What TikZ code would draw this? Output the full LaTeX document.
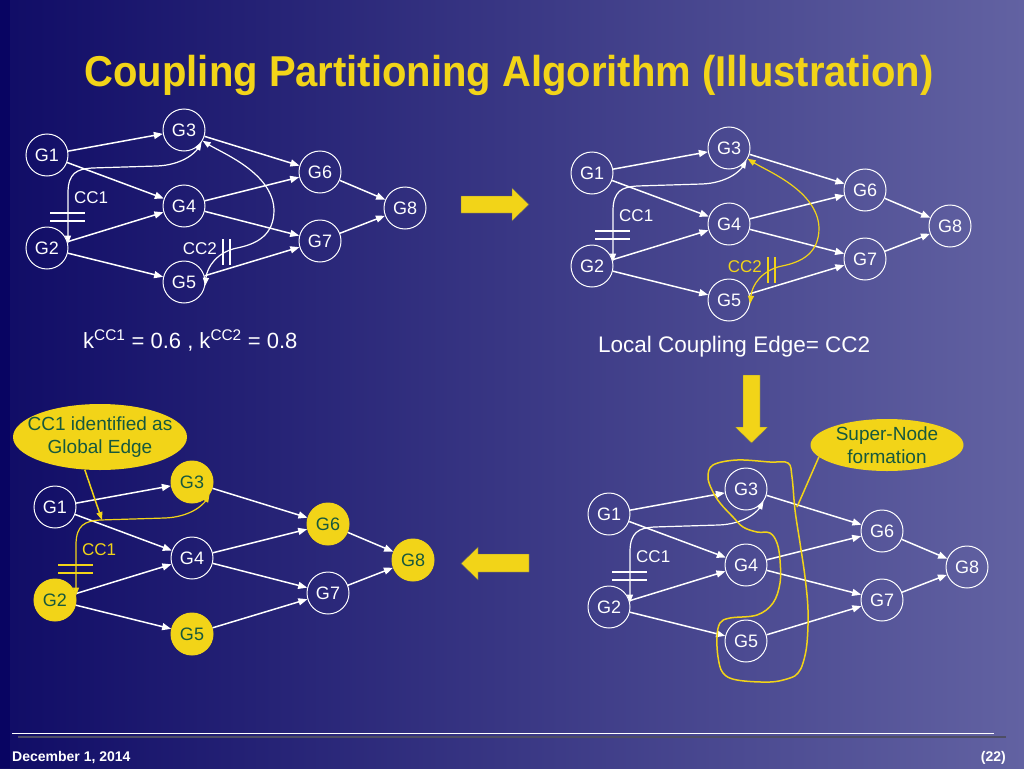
\documentclass[tikz,border=0pt]{standalone}
\usepackage{fontspec}
\setmainfont{Liberation Sans}
\usetikzlibrary{arrows.meta,shapes.geometric}

\definecolor{slideleft}{RGB}{16,12,102}
\definecolor{slideright}{RGB}{98,98,162}
\definecolor{slidestrip}{RGB}{8,4,98}
\definecolor{hotyellow}{RGB}{242,212,24}
\definecolor{notegreen}{RGB}{22,88,62}
\definecolor{footshadow}{RGB}{78,78,100}

\tikzset{
  gnode/.style={circle, draw=white, line width=1pt, minimum size=42pt, inner sep=0pt, text=white, font=\fontsize{18}{18}\selectfont},
  hot/.style={fill=hotyellow, draw=hotyellow, text=notegreen},
  link/.style={white, line width=1.5pt, -{Triangle[length=9pt,width=7pt]}},
  cpl/.style={line width=1.2pt, {Triangle[length=8pt,width=6pt]}-{Triangle[length=8pt,width=6pt]}},
  bars/.style={line width=1.1pt},
  cctext/.style={inner sep=0pt, font=\fontsize{17}{17}\selectfont},
  note/.style={ellipse, fill=hotyellow, text=notegreen, align=center, inner xsep=-12pt, inner ysep=-3pt, font=\fontsize{19}{23}\selectfont},
  pointer/.style={hotyellow, line width=1.5pt},
  bigarrow/.style={fill=hotyellow, draw=black!60, line width=0.4pt},
}

% the eight task graph, origin at G1
\newcommand{\basegraph}{%
  \foreach \n/\x/\y in {1/0/0, 2/0/93, 3/137/-25, 4/137/51, 5/137/127, 6/273/17, 7/273/86, 8/358/53}
    \node[gnode, sel\n/.try] (g\n) at (\x,\y) {G\n};
  \foreach \a/\b in {1/3, 1/4, 2/4, 2/5, 3/6, 4/6, 4/7, 5/7, 6/8, 7/8}
    \draw[link] (g\a) -- (g\b);
}
% coupling edge G2-G3
\newcommand{\ccone}[1]{%
  \draw[cpl, color=#1] (g2.12) -- (21,38) .. controls (21,18) and (30,14) .. (45,13) -- (110,11) .. controls (135,10) and (148,-2) .. (g3.-35);
  \draw[bars, color=#1] (3,58) -- (38,58) (3,66) -- (38,66);
  \node[cctext, text=#1, anchor=west] (cc1) at (27,43) {CC1};
}
% coupling edge G3-G5
\newcommand{\cctwo}[1]{%
  \draw[cpl, color=#1] (g3.-30) .. controls (175,-2) and (226,18) .. (227,55) .. controls (227,80) and (210,89) .. (190,93) .. controls (170,97) and (160,112) .. (g5.-10);
  \draw[bars, color=#1] (176,84) -- (176,110) (183,84) -- (183,110);
  \node[cctext, text=#1, anchor=east] (cc2) at (170,94) {CC2};
}

\begin{document}
\begin{tikzpicture}[x=1pt, y=-1pt]
  \useasboundingbox (0,0) rectangle (1024,768);
  \shade[left color=slideleft, right color=slideright] (0,0) rectangle (1024,768);
  \fill[slidestrip] (0,0) rectangle (10,768);

  \node[anchor=base, inner sep=0pt, text=hotyellow, font=\bfseries\fontsize{40}{40}\selectfont] (title) at (509,86) {\scalebox{1}[1.08]{Coupling Partitioning Algorithm (Illustration)}};

  % step 1: both couplings
  \begin{scope}[shift={(47,155)}, name prefix=tl-]
    \basegraph
    \ccone{white}
    \cctwo{white}
  \end{scope}
  \node[anchor=base west, inner sep=0pt, text=white, font=\fontsize{22}{22}\selectfont] (kvalues) at (83,348) {k\textsuperscript{CC1} = 0.6 , k\textsuperscript{CC2} = 0.8};

  % step 2: local edge
  \begin{scope}[shift={(592,173)}, name prefix=tr-]
    \basegraph
    \ccone{white}
    \cctwo{hotyellow}
  \end{scope}
  \node[anchor=base west, inner sep=0pt, text=white, font=\fontsize{22.5}{22.5}\selectfont] (localedge) at (598,352) {Local Coupling Edge= CC2};

  % step 3: super node
  \begin{scope}[shift={(609,514)}, name prefix=br-]
    \basegraph
    \ccone{white}
    \draw[hotyellow, line width=1.5pt] plot[smooth cycle, tension=0.6] coordinates {(99,-37) (104,-49) (128,-54) (161,-52) (179,-51) (183,-37) (186,-4) (191,29) (196,63) (199,96) (198,129) (194,149) (189,159) (181,164) (161,168) (128,166) (114,159) (109,143) (108,123) (111,109) (121,104) (148,101) (164,89) (171,69) (171,46) (168,29) (161,19) (148,18) (134,13) (124,3) (111,-11) (103,-24)};
    \coordinate (hit) at (188,-7);
  \end{scope}
  \node[note, minimum width=153pt, minimum height=52pt] (supernote) at (887,445) {Super-Node\\formation};
  \draw[pointer] (supernote.190) -- (br-hit);

  % step 4: global edge
  \begin{scope}[shift={(55,507)}, name prefix=bl-, sel2/.style=hot, sel3/.style=hot, sel5/.style=hot, sel6/.style=hot, sel8/.style=hot]
    \basegraph
    \ccone{hotyellow}
    \coordinate (hit) at (47,13);
  \end{scope}
  \node[note, minimum width=174pt, minimum height=66pt] (globalnote) at (100,437) {CC1 identified as\\Global Edge};
  \draw[pointer, -{Triangle[length=8pt,width=6pt]}] (globalnote.245) -- (bl-hit);

  % arrows between the steps
  \draw[bigarrow] (461,196) -- (512,196) -- (512,188) -- (529,204.5) -- (512,221) -- (512,213) -- (461,213) -- cycle;
  \draw[bigarrow] (743,375) -- (760,375) -- (760,427) -- (768,427) -- (751.5,443) -- (735,427) -- (743,427) -- cycle;
  \draw[bigarrow] (529,554) -- (478,554) -- (478,547) -- (461,563.5) -- (478,580) -- (478,572) -- (529,572) -- cycle;

  % footer
  \draw[footshadow, line width=2.5pt] (18,737) -- (1006,737);
  \draw[white, line width=1.8pt] (12,733.5) -- (994,733.5);
  \node[anchor=base west, inner sep=0pt, text=white, font=\bfseries\fontsize{14}{14}\selectfont] (date) at (12,761) {December 1, 2014};
  \node[anchor=base east, inner sep=0pt, text=white, font=\bfseries\fontsize{14}{14}\selectfont] (pageno) at (1006,761) {(22)};
\end{tikzpicture}
\end{document}
